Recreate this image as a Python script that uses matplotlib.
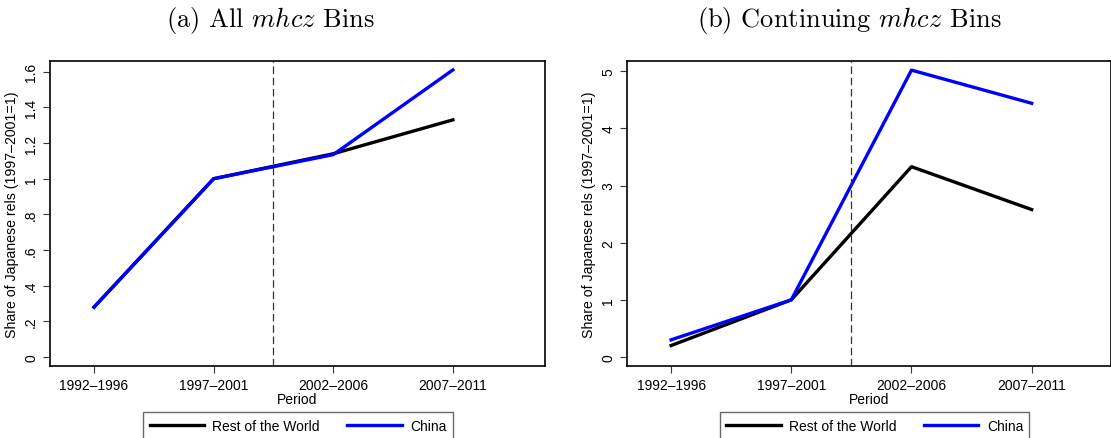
import matplotlib
matplotlib.use("Agg")
import matplotlib.pyplot as plt

periods = ["1992\u20131996", "1997\u20132001", "2002\u20132006", "2007\u20132011"]
xpos = [1, 2, 3, 4]

# (a) all bins
all_rest = [0.28, 1.0, 1.14, 1.33]
all_china = [0.28, 1.0, 1.135, 1.61]
# (b) continuing bins
cont_rest = [0.20, 1.0, 3.33, 2.58]
cont_china = [0.30, 1.0, 5.02, 4.44]

plt.rcParams['font.family'] = ['Liberation Sans', 'DejaVu Sans']
plt.rcParams['mathtext.fontset'] = 'cm'

fig = plt.figure(figsize=(11.11, 4.39), dpi=100)
ax1 = fig.add_axes([50/1111, 72/439, 495/1111, 305/439])
ax2 = fig.add_axes([627/1111, 72/439, 484/1111, 305/439])

def draw(ax, rest, china, yticks, ylabels, ylim, xlim, legx):
    ax.plot(xpos, rest, color='black', lw=2.4, label='Rest of the World')
    ax.plot(xpos, china, color='#0000ff', lw=2.4, label='China')
    ax.axvline(2.5, color='#333333', lw=0.9, ls=(0, (6, 3)))
    ax.set_xlim(*xlim)
    ax.set_ylim(*ylim)
    ax.set_xticks(xpos)
    ax.set_xticklabels(periods, fontsize=10)
    ax.set_yticks(yticks)
    ax.set_yticklabels(ylabels, fontsize=10, rotation=90, va='center')
    ax.tick_params(length=5, width=0.8, color='#333333')
    ax.set_xlabel('Period', fontsize=10, labelpad=0)
    ax.set_ylabel('Share of Japanese rels (1997\u20132001=1)', fontsize=10.2, labelpad=4)
    for s in ax.spines.values():
        s.set_linewidth(1.2)
    leg = ax.legend(loc='upper center', bbox_to_anchor=(legx, -0.152), ncol=2,
                    fontsize=10, frameon=True, fancybox=False, edgecolor='#444444',
                    handlelength=3.9, columnspacing=2.0, handletextpad=0.6,
                    borderpad=0.45, borderaxespad=0)
    leg.get_frame().set_linewidth(1.0)

draw(ax1, all_rest, all_china,
     [0, 0.2, 0.4, 0.6, 0.8, 1.0, 1.2, 1.4, 1.6],
     ['0', '.2', '.4', '.6', '.8', '1', '1.2', '1.4', '1.6'],
     (-0.05, 1.66), (0.632, 4.77), 0.501)
draw(ax2, cont_rest, cont_china,
     [0, 1, 2, 3, 4, 5], ['0', '1', '2', '3', '4', '5'],
     (-0.158, 5.18), (0.633, 4.66), 0.512)

fig.text(270/1111, 1 - 20/439, r'(a) All $mhcz$ Bins', fontsize=19,
         family='cmr10', ha='center', va='center')
fig.text(849/1111, 1 - 20/439, r'(b) Continuing $mhcz$ Bins', fontsize=19,
         family='cmr10', ha='center', va='center')

fig.savefig('out.png', dpi=100)
